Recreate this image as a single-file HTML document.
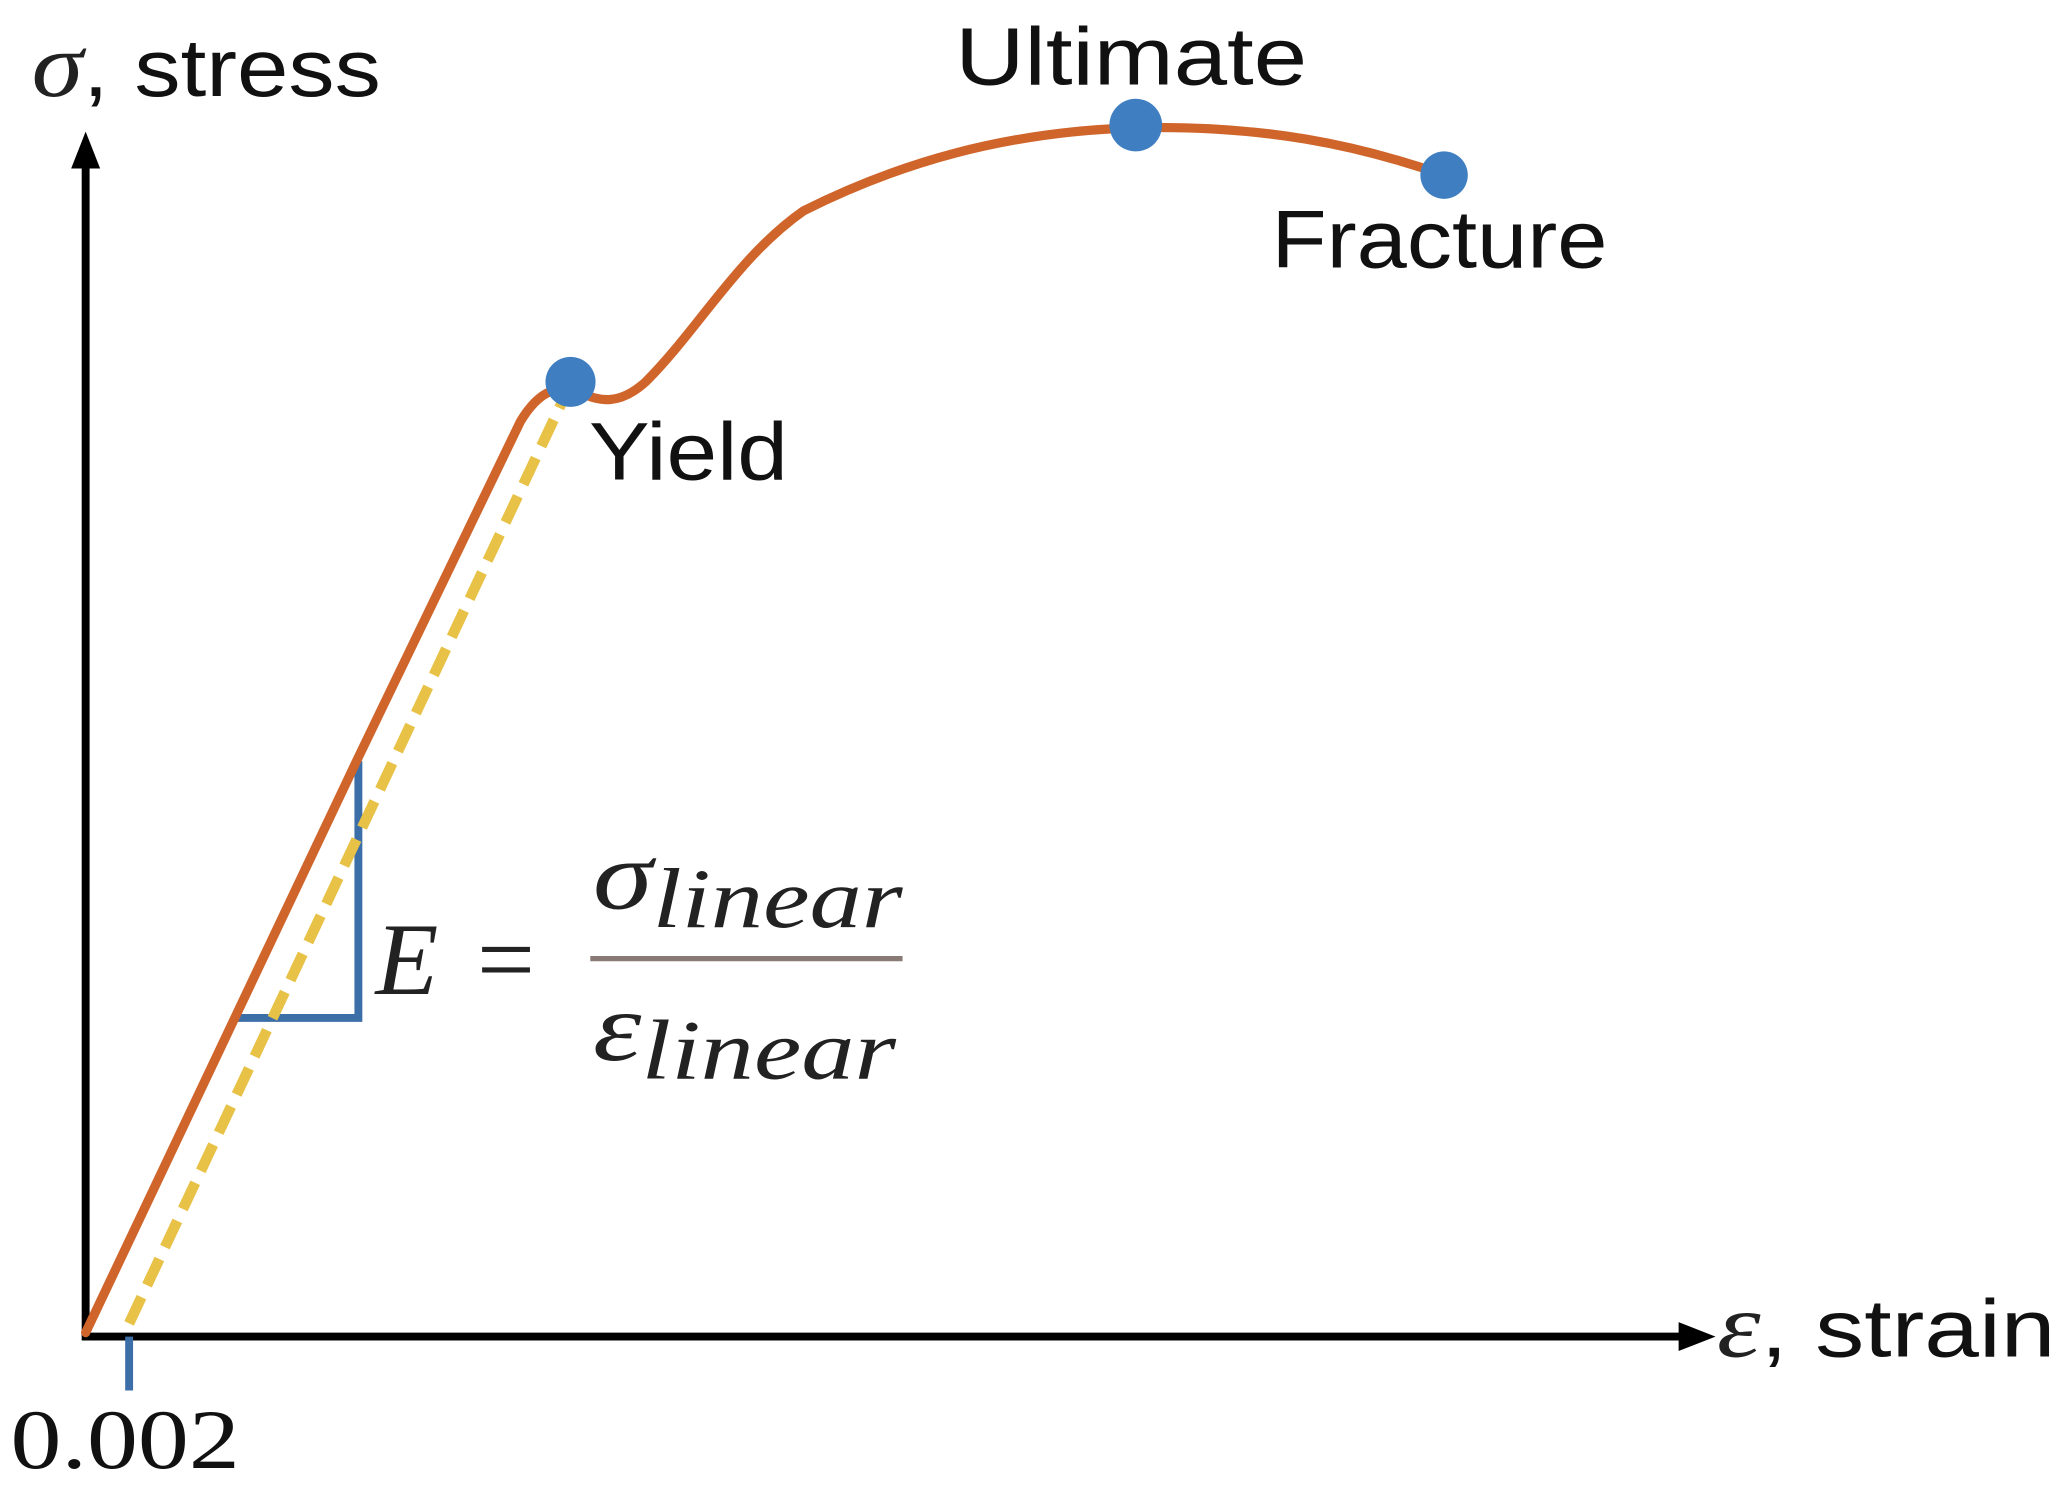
<!DOCTYPE html>
<html><head><meta charset="utf-8"><style>
html,body{margin:0;padding:0;background:#fff;}
svg{display:block;}
.s{font-family:"Liberation Sans",sans-serif;fill:#111;}
.m{font-family:"Liberation Serif",serif;font-style:italic;fill:#222;}
</style></head><body>
<svg width="2066" height="1488" viewBox="0 0 1568 1130" preserveAspectRatio="none" xmlns="http://www.w3.org/2000/svg">
<rect width="1568" height="1130" fill="#fff"/>
<line x1="65" y1="1015" x2="65" y2="118" stroke="#000" stroke-width="6"/>
<polygon points="65,100 54,128 76,128" fill="#000"/>
<line x1="62" y1="1015" x2="1282" y2="1015" stroke="#000" stroke-width="6"/>
<polygon points="1302,1015 1274,1004 1274,1026" fill="#000"/>
<line x1="98" y1="1015" x2="98" y2="1056" stroke="#3c6ea8" stroke-width="6"/>
<polyline points="272,578 272,773 178,773" fill="none" stroke="#3c6ea8" stroke-width="6"/>
<path d="M65,1012 L272,575 L395,320 C410,295 425,292 440,298 C455,305 470,308 490,290 C530,250 560,195 610,160 C680,125 760,100 862,97 C960,95 1030,110 1096,133" fill="none" stroke="#d0652c" stroke-width="7" stroke-linecap="round"/>
<line x1="98" y1="1005" x2="430" y2="298" stroke="#e8c247" stroke-width="8" stroke-dasharray="22,10"/>
<circle cx="433" cy="290" r="19" fill="#3f7fc1"/>
<circle cx="862" cy="95" r="20" fill="#3f7fc1"/>
<circle cx="1096" cy="133" r="18" fill="#3f7fc1"/>
<text x="24" y="73" class="s" font-size="62" textLength="265" lengthAdjust="spacingAndGlyphs"><tspan class="m" font-size="70">σ</tspan>, stress</text>
<text x="725" y="64" class="s" font-size="62" textLength="267" lengthAdjust="spacingAndGlyphs">Ultimate</text>
<text x="965" y="203" class="s" font-size="62" textLength="255" lengthAdjust="spacingAndGlyphs">Fracture</text>
<text x="447" y="364" class="s" font-size="62" textLength="151" lengthAdjust="spacingAndGlyphs">Yield</text>
<text x="1303" y="1030" class="s" font-size="62" textLength="257" lengthAdjust="spacingAndGlyphs"><tspan class="m" font-size="70">ε</tspan>, strain</text>
<text x="8" y="1115" font-family="Liberation Serif,serif" font-size="64" fill="#111" textLength="174" lengthAdjust="spacingAndGlyphs">0.002</text>
<text x="285" y="755" class="m" font-size="78">E</text>
<text x="362" y="755" font-family="Liberation Serif,serif" font-size="78" fill="#222">=</text>
<text x="450" y="690" class="m" font-size="74" textLength="235" lengthAdjust="spacingAndGlyphs">σ<tspan font-size="64" dy="14">linear</tspan></text>
<line x1="448" y1="728" x2="685" y2="728" stroke="#8a7a76" stroke-width="4"/>
<text x="450" y="805" class="m" font-size="74" textLength="230" lengthAdjust="spacingAndGlyphs">ε<tspan font-size="64" dy="14">linear</tspan></text>
</svg>
</body></html>
